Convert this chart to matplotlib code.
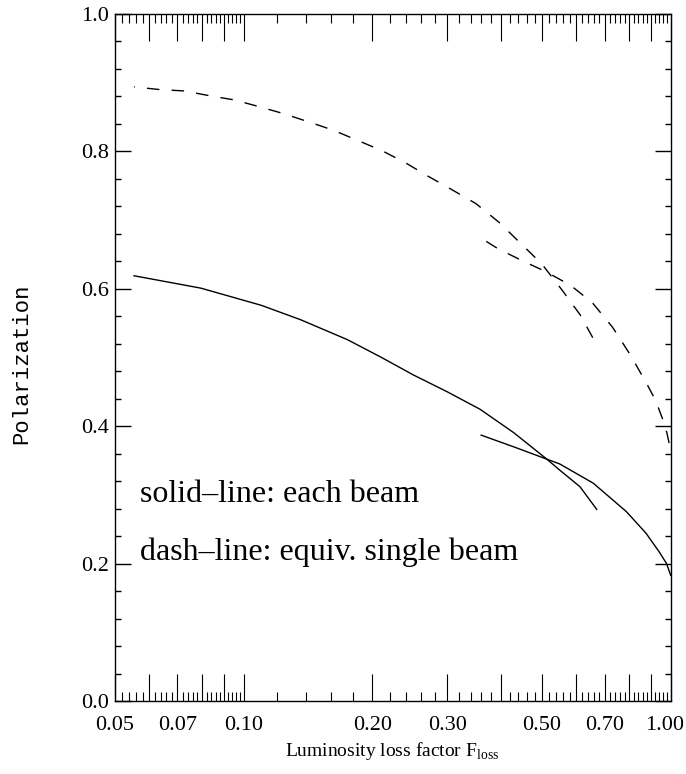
import matplotlib
matplotlib.use('Agg')
import matplotlib.pyplot as plt
from matplotlib.ticker import FixedLocator, FixedFormatter
import numpy as np

# кривые (F_loss, поляризация)
solid_long_x = [0.0554, 0.0794, 0.110, 0.136, 0.175, 0.209, 0.250, 0.300, 0.358, 0.429, 0.513, 0.550, 0.613, 0.671]
solid_long_y = [0.619, 0.601, 0.576, 0.555, 0.526, 0.501, 0.4745, 0.450, 0.4246, 0.3906, 0.352, 0.336, 0.312, 0.279]

solid_short_x = [0.360, 0.429, 0.513, 0.550, 0.659, 0.788, 0.876, 0.940, 0.978, 1.000]
solid_short_y = [0.387, 0.370, 0.352, 0.345, 0.317, 0.2755, 0.244, 0.217, 0.200, 0.183]

dash_long_x = [0.0554, 0.0636, 0.0727, 0.0833, 0.095, 0.109, 0.124, 0.142, 0.162, 0.185, 0.211,
               0.240, 0.272, 0.308, 0.350, 0.396, 0.444, 0.4995, 0.557, 0.614, 0.673]
dash_long_y = [0.894, 0.890, 0.888, 0.881, 0.875, 0.865, 0.855, 0.843, 0.831, 0.816, 0.801,
               0.783, 0.763, 0.744, 0.724, 0.697, 0.667, 0.636, 0.598, 0.562, 0.517]

dash_short_x = [0.370, 0.395, 0.449, 0.510, 0.583, 0.655, 0.731, 0.806, 0.882, 0.921, 0.956, 0.980, 1.000]
dash_short_y = [0.669, 0.658, 0.641, 0.625, 0.605, 0.580, 0.544, 0.503, 0.460, 0.438, 0.4115, 0.390, 0.365]

x_tick_labels = ['0.05', '0.07', '0.10', '0.20', '0.30', '0.50', '0.70', '1.00']
y_tick_labels = ['0.0', '0.2', '0.4', '0.6', '0.8', '1.0']

plt.rcParams['mathtext.fontset'] = 'custom'
plt.rcParams['mathtext.rm'] = 'Liberation Serif'
serif = 'Liberation Serif'
tick_fs = 16
xpad = 11

fig = plt.figure(figsize=(6.86, 7.74), dpi=100)
ax = fig.add_axes([0.1676, 0.0943, 0.8101, 0.8876])

ax.plot(solid_long_x, solid_long_y, color='black', lw=1.0)
ax.plot(solid_short_x, solid_short_y, color='black', lw=1.0)
ax.plot(dash_long_x, dash_long_y, color='black', lw=1.0, linestyle=(8.4, (9.0, 8.8)))
ax.plot(dash_short_x, dash_short_y, color='black', lw=1.0, linestyle=(0, (9.0, 8.8)))

ax.set_xscale('log')
ax.set_xlim(0.05, 1.0)
ax.set_ylim(0.0, 1.0)

# длинные и короткие штрихи по оси x
long_ticks = np.concatenate([[0.05], np.arange(0.06, 0.1001, 0.01), np.arange(0.2, 1.0001, 0.1)])
short_ticks = np.concatenate([np.arange(0.052, 0.0999, 0.002), np.arange(0.12, 0.999, 0.02)])
short_ticks = [t for t in short_ticks if np.min(np.abs(long_ticks - t)) > 1e-6]
labels = []
for t in long_ticks:
    s = '%.2f' % t
    # последнюю подпись рисуем отдельно, чтобы не обрезалась
    labels.append(s if (s in x_tick_labels and s != x_tick_labels[-1]) else '')
ax.xaxis.set_major_locator(FixedLocator(long_ticks))
ax.xaxis.set_major_formatter(FixedFormatter(labels))
ax.xaxis.set_minor_locator(FixedLocator(short_ticks))
ax.xaxis.set_minor_formatter(FixedFormatter([''] * len(short_ticks)))

ax.yaxis.set_major_locator(FixedLocator(np.linspace(0, 1, len(y_tick_labels))))
ax.yaxis.set_major_formatter(FixedFormatter(y_tick_labels))
ax.yaxis.set_minor_locator(FixedLocator(np.arange(0, 1.0001, 0.04)))

ax.tick_params(axis='x', which='major', direction='in', length=19.5, width=0.8, top=True, pad=xpad)
ax.tick_params(axis='x', which='minor', direction='in', length=6.5, width=0.8, top=True)
ax.tick_params(axis='y', which='major', direction='in', length=11.5, width=1.0, right=True, pad=4)
ax.tick_params(axis='y', which='minor', direction='in', length=4.1, width=1.0, right=True)
for lab in ax.get_xticklabels() + ax.get_yticklabels():
    lab.set_fontfamily(serif)
    lab.set_fontsize(tick_fs)

ax.annotate(x_tick_labels[-1], xy=(1.0, 0.0), xycoords='axes fraction',
            xytext=(10, -xpad), textcoords='offset points', ha='right', va='top',
            fontsize=tick_fs, family=serif)

for sp in ax.spines.values():
    sp.set_linewidth(1.0)

ax.text(0.045, 0.290, 'solid\u2013line: each beam', transform=ax.transAxes,
        fontsize=23, family=serif, va='baseline', ha='left')
ax.text(0.045, 0.205, 'dash\u2013line: equiv. single beam', transform=ax.transAxes,
        fontsize=23, family=serif, va='baseline', ha='left')

fig.text(392 / 686, 1 - 751 / 774, r'Luminosity loss factor F$_{\rm loss}$',
         fontsize=14, family=serif, ha='center', va='center')
fig.text(22 / 686, 1 - 364 / 774, 'Polarization', fontsize=16, family='Liberation Mono',
         rotation=90, ha='center', va='center')

plt.savefig('out.png', dpi=100)
